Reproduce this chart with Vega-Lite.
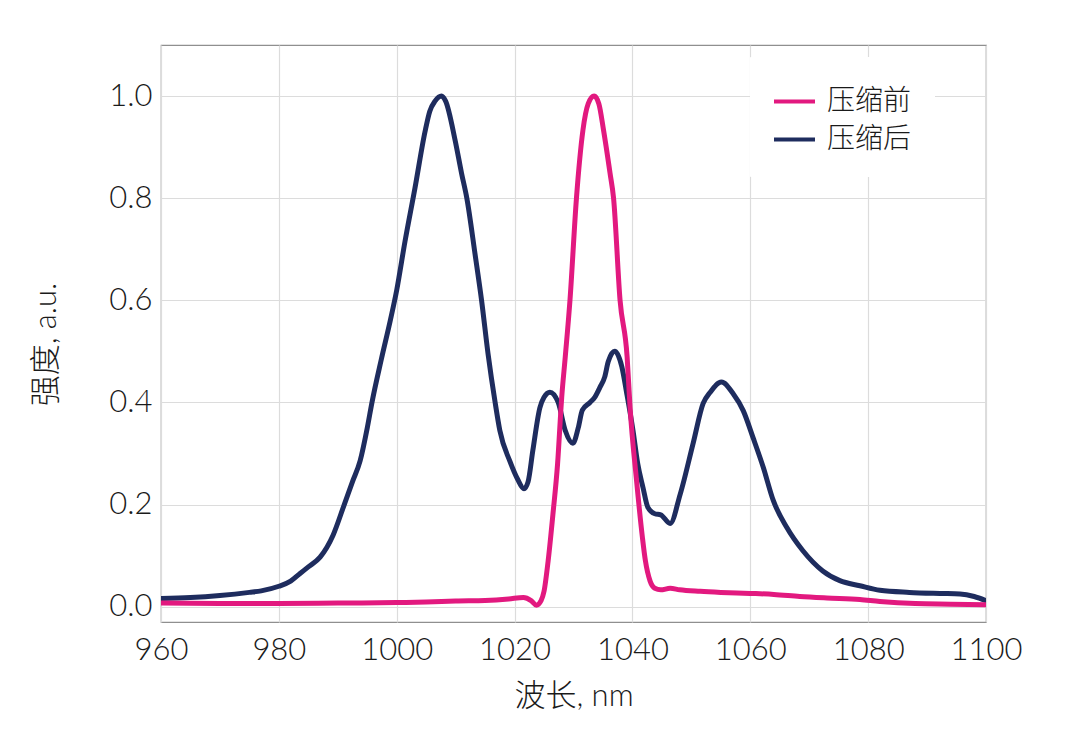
{
  "$schema": "https://vega.github.io/schema/vega-lite/v6.json",
  "autosize": {"type": "none"},
  "width": 825,
  "height": 577,
  "padding": {"left": 161, "top": 45, "right": 94, "bottom": 129},
  "background": "white",
  "config": {
    "view": {"stroke": "#8f8f8f", "strokeWidth": 1.2},
    "font": "Lato, Noto Sans CJK SC",
    "axis": {
      "labelFont": "Lato, Noto Sans CJK SC",
      "titleFont": "Lato, Noto Sans CJK SC",
      "labelFontWeight": 300,
      "titleFontWeight": 300,
      "labelColor": "#1a1a1a",
      "titleColor": "#1a1a1a",
      "labelFontSize": 31,
      "titleFontSize": 31,
      "domain": false,
      "ticks": false,
      "gridColor": "#dcdcdc",
      "gridWidth": 1.2
    }
  },
  "datasets": {
    "spectra": [
      {"wl": 960, "v": 0.016, "s": "压缩后"},
      {"wl": 965, "v": 0.018, "s": "压缩后"},
      {"wl": 970, "v": 0.022, "s": "压缩后"},
      {"wl": 975, "v": 0.028, "s": "压缩后"},
      {"wl": 977, "v": 0.031, "s": "压缩后"},
      {"wl": 980, "v": 0.040, "s": "压缩后"},
      {"wl": 982, "v": 0.050, "s": "压缩后"},
      {"wl": 983.6, "v": 0.065, "s": "压缩后"},
      {"wl": 985, "v": 0.078, "s": "压缩后"},
      {"wl": 987, "v": 0.097, "s": "压缩后"},
      {"wl": 989.2, "v": 0.140, "s": "压缩后"},
      {"wl": 991.1, "v": 0.200, "s": "压缩后"},
      {"wl": 992.5, "v": 0.245, "s": "压缩后"},
      {"wl": 993.8, "v": 0.286, "s": "压缩后"},
      {"wl": 995, "v": 0.350, "s": "压缩后"},
      {"wl": 995.8, "v": 0.400, "s": "压缩后"},
      {"wl": 997.4, "v": 0.485, "s": "压缩后"},
      {"wl": 998.9, "v": 0.560, "s": "压缩后"},
      {"wl": 1000, "v": 0.620, "s": "压缩后"},
      {"wl": 1001.4, "v": 0.715, "s": "压缩后"},
      {"wl": 1003.1, "v": 0.820, "s": "压缩后"},
      {"wl": 1004.8, "v": 0.930, "s": "压缩后"},
      {"wl": 1005.6, "v": 0.970, "s": "压缩后"},
      {"wl": 1006.5, "v": 0.990, "s": "压缩后"},
      {"wl": 1007.6, "v": 1.000, "s": "压缩后"},
      {"wl": 1008.3, "v": 0.990, "s": "压缩后"},
      {"wl": 1009.9, "v": 0.914, "s": "压缩后"},
      {"wl": 1011.0, "v": 0.849, "s": "压缩后"},
      {"wl": 1011.9, "v": 0.800, "s": "压缩后"},
      {"wl": 1013.3, "v": 0.690, "s": "压缩后"},
      {"wl": 1014.4, "v": 0.600, "s": "压缩后"},
      {"wl": 1015.5, "v": 0.495, "s": "压缩后"},
      {"wl": 1016.7, "v": 0.400, "s": "压缩后"},
      {"wl": 1017.5, "v": 0.345, "s": "压缩后"},
      {"wl": 1019.2, "v": 0.285, "s": "压缩后"},
      {"wl": 1020.5, "v": 0.250, "s": "压缩后"},
      {"wl": 1021.6, "v": 0.231, "s": "压缩后"},
      {"wl": 1022.3, "v": 0.245, "s": "压缩后"},
      {"wl": 1023.1, "v": 0.306, "s": "压缩后"},
      {"wl": 1024.3, "v": 0.390, "s": "压缩后"},
      {"wl": 1025, "v": 0.410, "s": "压缩后"},
      {"wl": 1026, "v": 0.420, "s": "压缩后"},
      {"wl": 1027.4, "v": 0.400, "s": "压缩后"},
      {"wl": 1028.6, "v": 0.345, "s": "压缩后"},
      {"wl": 1029.9, "v": 0.320, "s": "压缩后"},
      {"wl": 1030.8, "v": 0.350, "s": "压缩后"},
      {"wl": 1031.5, "v": 0.385, "s": "压缩后"},
      {"wl": 1032.8, "v": 0.400, "s": "压缩后"},
      {"wl": 1033.6, "v": 0.410, "s": "压缩后"},
      {"wl": 1034.5, "v": 0.430, "s": "压缩后"},
      {"wl": 1035.3, "v": 0.450, "s": "压缩后"},
      {"wl": 1035.9, "v": 0.480, "s": "压缩后"},
      {"wl": 1037, "v": 0.500, "s": "压缩后"},
      {"wl": 1038.2, "v": 0.470, "s": "压缩后"},
      {"wl": 1039, "v": 0.420, "s": "压缩后"},
      {"wl": 1040.1, "v": 0.345, "s": "压缩后"},
      {"wl": 1040.9, "v": 0.280, "s": "压缩后"},
      {"wl": 1041.8, "v": 0.233, "s": "压缩后"},
      {"wl": 1042.6, "v": 0.195, "s": "压缩后"},
      {"wl": 1043.8, "v": 0.182, "s": "压缩后"},
      {"wl": 1044.8, "v": 0.180, "s": "压缩后"},
      {"wl": 1046.4, "v": 0.163, "s": "压缩后"},
      {"wl": 1048.1, "v": 0.220, "s": "压缩后"},
      {"wl": 1050.3, "v": 0.320, "s": "压缩后"},
      {"wl": 1052, "v": 0.398, "s": "压缩后"},
      {"wl": 1053.2, "v": 0.420, "s": "压缩后"},
      {"wl": 1055.1, "v": 0.440, "s": "压缩后"},
      {"wl": 1057.1, "v": 0.417, "s": "压缩后"},
      {"wl": 1058.8, "v": 0.384, "s": "压缩后"},
      {"wl": 1060.5, "v": 0.330, "s": "压缩后"},
      {"wl": 1062.2, "v": 0.273, "s": "压缩后"},
      {"wl": 1063.9, "v": 0.208, "s": "压缩后"},
      {"wl": 1066.2, "v": 0.155, "s": "压缩后"},
      {"wl": 1068.9, "v": 0.110, "s": "压缩后"},
      {"wl": 1072.3, "v": 0.070, "s": "压缩后"},
      {"wl": 1075.2, "v": 0.051, "s": "压缩后"},
      {"wl": 1078.6, "v": 0.041, "s": "压缩后"},
      {"wl": 1082, "v": 0.032, "s": "压缩后"},
      {"wl": 1087, "v": 0.028, "s": "压缩后"},
      {"wl": 1092.2, "v": 0.026, "s": "压缩后"},
      {"wl": 1095.6, "v": 0.025, "s": "压缩后"},
      {"wl": 1098, "v": 0.020, "s": "压缩后"},
      {"wl": 1100, "v": 0.012, "s": "压缩后"},
      {"wl": 960, "v": 0.007, "s": "压缩前"},
      {"wl": 970, "v": 0.006, "s": "压缩前"},
      {"wl": 980, "v": 0.006, "s": "压缩前"},
      {"wl": 990, "v": 0.007, "s": "压缩前"},
      {"wl": 1000, "v": 0.008, "s": "压缩前"},
      {"wl": 1005, "v": 0.009, "s": "压缩前"},
      {"wl": 1010, "v": 0.011, "s": "压缩前"},
      {"wl": 1015, "v": 0.012, "s": "压缩前"},
      {"wl": 1019, "v": 0.015, "s": "压缩前"},
      {"wl": 1021.5, "v": 0.018, "s": "压缩前"},
      {"wl": 1022.8, "v": 0.012, "s": "压缩前"},
      {"wl": 1023.7, "v": 0.003, "s": "压缩前"},
      {"wl": 1024.5, "v": 0.012, "s": "压缩前"},
      {"wl": 1025, "v": 0.030, "s": "压缩前"},
      {"wl": 1025.7, "v": 0.090, "s": "压缩前"},
      {"wl": 1026.5, "v": 0.180, "s": "压缩前"},
      {"wl": 1027.3, "v": 0.280, "s": "压缩前"},
      {"wl": 1028, "v": 0.410, "s": "压缩前"},
      {"wl": 1028.6, "v": 0.489, "s": "压缩前"},
      {"wl": 1029.4, "v": 0.600, "s": "压缩前"},
      {"wl": 1030.5, "v": 0.800, "s": "压缩前"},
      {"wl": 1031.6, "v": 0.933, "s": "压缩前"},
      {"wl": 1032.5, "v": 0.985, "s": "压缩前"},
      {"wl": 1033.5, "v": 1.000, "s": "压缩前"},
      {"wl": 1034.3, "v": 0.985, "s": "压缩前"},
      {"wl": 1035.1, "v": 0.933, "s": "压缩前"},
      {"wl": 1036.2, "v": 0.849, "s": "压缩前"},
      {"wl": 1036.8, "v": 0.800, "s": "压缩前"},
      {"wl": 1037.9, "v": 0.600, "s": "压缩前"},
      {"wl": 1039.1, "v": 0.489, "s": "压缩前"},
      {"wl": 1039.6, "v": 0.390, "s": "压缩前"},
      {"wl": 1040.7, "v": 0.247, "s": "压缩前"},
      {"wl": 1041.7, "v": 0.135, "s": "压缩前"},
      {"wl": 1042.2, "v": 0.090, "s": "压缩前"},
      {"wl": 1043, "v": 0.050, "s": "压缩前"},
      {"wl": 1043.8, "v": 0.036, "s": "压缩前"},
      {"wl": 1044.8, "v": 0.033, "s": "压缩前"},
      {"wl": 1046.4, "v": 0.036, "s": "压缩前"},
      {"wl": 1048, "v": 0.033, "s": "压缩前"},
      {"wl": 1051.5, "v": 0.030, "s": "压缩前"},
      {"wl": 1055, "v": 0.028, "s": "压缩前"},
      {"wl": 1060, "v": 0.026, "s": "压缩前"},
      {"wl": 1064, "v": 0.024, "s": "压缩前"},
      {"wl": 1068.4, "v": 0.020, "s": "压缩前"},
      {"wl": 1073, "v": 0.017, "s": "压缩前"},
      {"wl": 1078.6, "v": 0.014, "s": "压缩前"},
      {"wl": 1082, "v": 0.010, "s": "压缩前"},
      {"wl": 1088, "v": 0.006, "s": "压缩前"},
      {"wl": 1094, "v": 0.005, "s": "压缩前"},
      {"wl": 1100, "v": 0.004, "s": "压缩前"}
    ]
  },
  "data": {"name": "spectra"},
  "encoding": {
    "x": {
      "field": "wl",
      "type": "quantitative",
      "title": "波长, nm",
      "scale": {"domain": [960, 1100], "nice": false, "zero": false},
      "axis": {"values": [960, 980, 1000, 1020, 1040, 1060, 1080, 1100], "format": "d", "labelPadding": 13, "titlePadding": 16, "labelFlush": false}
    },
    "y": {
      "field": "v",
      "type": "quantitative",
      "title": "强度, a.u.",
      "scale": {"domain": [-0.03, 1.1], "nice": false, "zero": false},
      "axis": {"values": [0, 0.2, 0.4, 0.6, 0.8, 1.0], "format": ".1f", "labelPadding": 9, "titlePadding": 46, "titleY": 299}
    },
    "color": {
      "field": "s",
      "type": "nominal",
      "scale": {"domain": ["压缩前", "压缩后"], "range": ["#e2197f", "#1e2c5e"]},
      "legend": {
        "title": null,
        "orient": "none",
        "legendX": 589,
        "legendY": 12,
        "padding": 22,
        "fillColor": "white",
        "strokeColor": "white",
        "symbolType": "stroke",
        "symbolSize": 1681,
        "symbolStrokeWidth": 4,
        "labelFont": "Noto Sans CJK SC",
        "labelFontWeight": 300,
        "labelFontSize": 28,
        "labelColor": "#1a1a1a",
        "labelOffset": 10,
        "rowPadding": 1
      }
    }
  },
  "layer": [
    {
      "transform": [{"filter": "datum.s === '压缩后'"}],
      "mark": {"type": "line", "strokeWidth": 5, "interpolate": "monotone", "strokeCap": "round", "strokeJoin": "round", "clip": true}
    },
    {
      "transform": [{"filter": "datum.s === '压缩前'"}],
      "mark": {"type": "line", "strokeWidth": 5, "interpolate": "monotone", "strokeCap": "round", "strokeJoin": "round", "clip": true}
    }
  ]
}
